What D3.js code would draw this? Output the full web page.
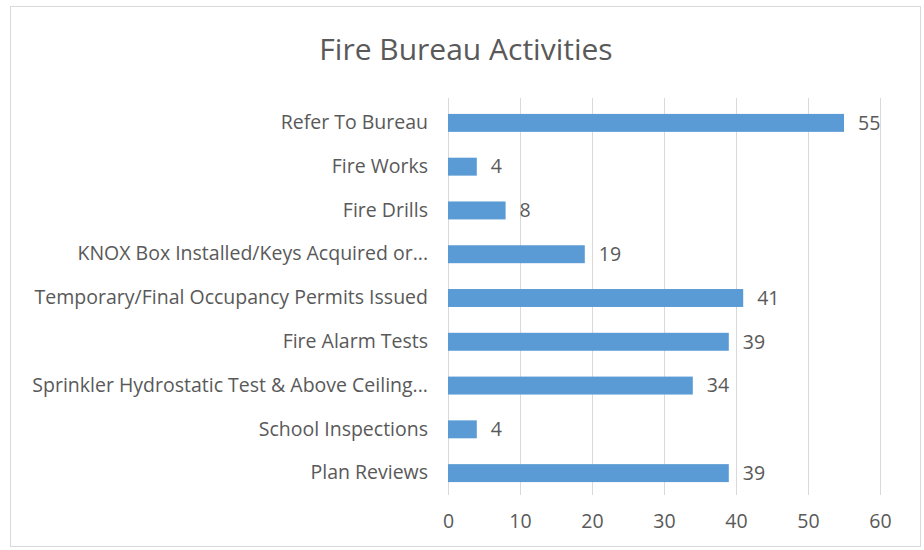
<!DOCTYPE html>
<html>
<head>
<meta charset="utf-8">
<script src="https://cdn.jsdelivr.net/npm/d3@7"></script>
<style>
  body { margin: 0; background: #fff; }
  svg text { font-family: "Open Sans", sans-serif; fill: #595959; }
</style>
</head>
<body>
<svg id="chart" width="924" height="550"></svg>
<script>
const categories = [
    'Refer To Bureau',
    'Fire Works',
    'Fire Drills',
    'KNOX Box Installed/Keys Acquired or...',
    'Temporary/Final Occupancy Permits Issued',
    'Fire Alarm Tests',
    'Sprinkler Hydrostatic Test & Above Ceiling...',
    'School Inspections',
    'Plan Reviews',
];
const values = [55, 4, 8, 19, 41, 39, 34, 4, 39];
const xTicks = [0, 10, 20, 30, 40, 50, 60];

const svg = d3.select('#chart');
const margin = { left: 448, right: 44, top: 101, bottom: 55 };
const width = 924, height = 550;
const labelSize = 19.5;

// outer chart border
svg.append('rect')
    .attr('x', 10.5).attr('y', 6.5)
    .attr('width', 910).attr('height', 540)
    .attr('fill', '#fff').attr('stroke', '#d9d9d9');

svg.append('text')
    .attr('x', 466).attr('y', 60)
    .attr('text-anchor', 'middle')
    .attr('font-size', 30)
    .text('Fire Bureau Activities');

const xs = d3.scaleLinear().domain([0, 60]).range([margin.left, width - margin.right]);
const ys = d3.scaleBand().domain(categories).range([margin.top, height - margin.bottom]).paddingInner(0.59).paddingOuter(0.295);

// vertical gridlines
svg.append('g')
    .selectAll('line')
    .data(xTicks)
    .enter()
    .append('line')
    .attr('x1', d => Math.round(xs(d)) + 0.5)
    .attr('x2', d => Math.round(xs(d)) + 0.5)
    .attr('y1', margin.top - 3)
    .attr('y2', height - margin.bottom)
    .attr('stroke', '#d9d9d9');

// x axis labels
const xAxis = svg.append('g')
    .attr('transform', `translate(0,${height - margin.bottom})`)
    .call(d3.axisBottom(xs).tickValues(xTicks).tickSize(0).tickPadding(19));
xAxis.select('.domain').remove();
xAxis.selectAll('text').attr('font-size', labelSize).attr('font-family', '"Open Sans", sans-serif').attr('fill', '#595959');

// y axis labels
const yAxis = svg.append('g')
    .attr('transform', `translate(${margin.left},0)`)
    .call(d3.axisLeft(ys).tickSize(0).tickPadding(20));
yAxis.select('.domain').remove();
yAxis.selectAll('text').attr('font-size', labelSize).attr('font-family', '"Open Sans", sans-serif').attr('fill', '#595959');

// bars
svg.append('g')
    .selectAll('rect')
    .data(values)
    .enter()
    .append('rect')
    .attr('x', xs(0))
    .attr('y', (d, i) => ys(categories[i]))
    .attr('width', d => xs(d) - xs(0))
    .attr('height', ys.bandwidth())
    .attr('fill', '#5b9bd5');

// data labels
svg.append('g')
    .selectAll('text')
    .data(values)
    .enter()
    .append('text')
    .attr('x', d => xs(d) + 14)
    .attr('y', (d, i) => ys(categories[i]) + ys.bandwidth() / 2)
    .attr('dy', '0.35em')
    .attr('font-size', labelSize)
    .text(d => d);
</script>
</body>
</html>
